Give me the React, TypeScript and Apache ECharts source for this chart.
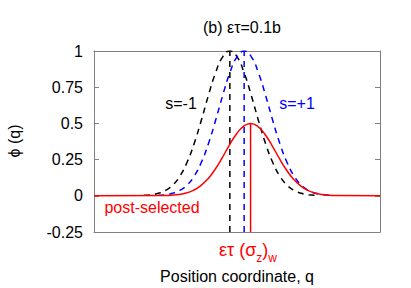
import React, { useEffect, useRef } from "react";
import * as echarts from "echarts";

const titleText = "(b) ετ=0.1b";
const yTicks = [-0.25, 0, 0.25, 0.5, 0.75, 1];

const blackQ = [-6.5, -6, -5.5, -5, -4.5, -4, -3.5, -3, -2.5, -2, -1.5, -1, -0.5, 0, 0.5, 1, 1.5, 2, 2.5, 3, 3.5, 4, 4.5, 5, 5.5];
const blackPhi = [0.003, 0.007, 0.017, 0.037, 0.073, 0.135, 0.23, 0.36, 0.52, 0.693, 0.849, 0.96, 1, 0.96, 0.849, 0.693, 0.52, 0.36, 0.23, 0.135, 0.073, 0.037, 0.017, 0.007, 0.003];

const blueQ = [-5.5, -5, -4.5, -4, -3.5, -3, -2.5, -2, -1.5, -1, -0.5, 0, 0.5, 1, 1.5, 2, 2.5, 3, 3.5, 4, 4.5, 5, 5.5, 6, 6.5];
const bluePhi = [0.003, 0.007, 0.017, 0.037, 0.073, 0.135, 0.23, 0.36, 0.52, 0.693, 0.849, 0.96, 1, 0.96, 0.849, 0.693, 0.52, 0.36, 0.23, 0.135, 0.073, 0.037, 0.017, 0.007, 0.003];

const redQ = [-10, -5.05, -4.55, -4.05, -3.55, -3.05, -2.55, -2.05, -1.55, -1.05, -0.55, -0.05, 0.45, 0.95, 1.45, 1.95, 2.45, 2.95, 3.45, 3.95, 4.45, 4.95, 5.45, 5.95, 6.45, 6.95, 10];
const redPhi = [0, 0.002, 0.004, 0.009, 0.019, 0.037, 0.068, 0.115, 0.18, 0.26, 0.347, 0.425, 0.48, 0.5, 0.48, 0.425, 0.347, 0.26, 0.18, 0.115, 0.068, 0.037, 0.019, 0.009, 0.004, 0.002, 0];

const blackMarkQ = -0.5;
const blueMarkQ = 0.5;
const redMarkQ = 0.95;
const blackMarkTop = 1;
const blueMarkTop = 1;
const redMarkTop = 0.5;

const zip = (xs: number[], ys: number[]) => xs.map((x, i) => [x, ys[i]]);

const FONT = "Liberation Sans, Arial, Helvetica, sans-serif";
const FRAME = "#808080";
const DASH = [6, 5];

export default function App() {
  const ref = useRef<HTMLDivElement>(null);
  useEffect(() => {
    if (!ref.current) return;
    const chart = echarts.init(ref.current, undefined, { renderer: "svg" });
    const yMin = yTicks[0];
    const yMax = yTicks[yTicks.length - 1];
    chart.setOption({
      animation: false,
      backgroundColor: "#ffffff",
      textStyle: { fontFamily: FONT },
      title: {
        text: titleText,
        left: 237,
        top: 14,
        textAlign: "center",
        textStyle: { fontSize: 16, fontWeight: "normal", color: "#000", fontFamily: FONT },
      },
      grid: { left: 94, right: 31, top: 51, bottom: 56 },
      xAxis: [
        {
          type: "value",
          min: -10,
          max: 10,
          axisLine: { show: true, onZero: false, lineStyle: { color: FRAME, width: 1 } },
          axisTick: { show: false },
          axisLabel: { show: false },
          splitLine: { show: false },
        },
        {
          type: "value",
          position: "top",
          min: -10,
          max: 10,
          axisLine: { show: true, onZero: false, lineStyle: { color: FRAME, width: 1 } },
          axisTick: { show: false },
          axisLabel: { show: false },
          splitLine: { show: false },
        },
      ],
      yAxis: [
        {
          type: "value",
          min: yMin,
          max: yMax,
          interval: 0.25,
          axisLine: { show: true, onZero: false, lineStyle: { color: FRAME, width: 1 } },
          axisTick: { show: true, inside: true, length: 5, lineStyle: { color: FRAME } },
          axisLabel: { show: true, color: "#000", fontSize: 16, margin: 11, fontFamily: FONT },
          splitLine: { show: false },
        },
        {
          type: "value",
          position: "right",
          min: yMin,
          max: yMax,
          interval: 0.25,
          axisLine: { show: true, onZero: false, lineStyle: { color: FRAME, width: 1 } },
          axisTick: { show: true, inside: true, length: 5, lineStyle: { color: FRAME } },
          axisLabel: { show: false },
          splitLine: { show: false },
        },
      ],
      series: [
        {
          type: "line",
          name: "s=-1",
          data: zip(blackQ, blackPhi),
          smooth: true,
          showSymbol: false,
          lineStyle: { color: "#000", width: 1.5, type: DASH },
        },
        {
          type: "line",
          name: "s=+1",
          data: zip(blueQ, bluePhi),
          smooth: true,
          showSymbol: false,
          lineStyle: { color: "#0000ff", width: 1.5, type: DASH },
        },
        {
          type: "line",
          name: "black mark",
          data: [[blackMarkQ, yMin], [blackMarkQ, blackMarkTop]],
          showSymbol: false,
          lineStyle: { color: "#000", width: 1.5, type: DASH },
        },
        {
          type: "line",
          name: "blue mark",
          data: [[blueMarkQ, yMin], [blueMarkQ, blueMarkTop]],
          showSymbol: false,
          lineStyle: { color: "#0000ff", width: 1.5, type: DASH },
        },
        {
          type: "line",
          name: "post-selected",
          data: zip(redQ, redPhi),
          smooth: true,
          showSymbol: false,
          lineStyle: { color: "#ff0000", width: 1.5 },
        },
        {
          type: "line",
          name: "red mark",
          data: [[redMarkQ, yMin], [redMarkQ, redMarkTop]],
          showSymbol: false,
          lineStyle: { color: "#ff0000", width: 1.5 },
        },
      ],
      graphic: [
        {
          type: "text",
          x: 14,
          y: 141,
          rotation: Math.PI / 2,
          style: { text: "ϕ (q)", fontSize: 16, fill: "#000", align: "center", verticalAlign: "middle", fontFamily: FONT },
        },
        {
          type: "text",
          x: 237,
          y: 276,
          style: { text: "Position coordinate, q", fontSize: 16, fill: "#000", align: "center", verticalAlign: "middle", fontFamily: FONT },
        },
        {
          type: "text",
          x: 181,
          y: 103,
          style: { text: "s=-1", fontSize: 16, fill: "#000", align: "center", verticalAlign: "middle", fontFamily: FONT },
        },
        {
          type: "text",
          x: 297,
          y: 103,
          style: { text: "s=+1", fontSize: 16, fill: "#0000ff", align: "center", verticalAlign: "middle", fontFamily: FONT },
        },
        {
          type: "text",
          x: 152,
          y: 207,
          style: { text: "post-selected", fontSize: 16, fill: "#ff0000", align: "center", verticalAlign: "middle", fontFamily: FONT },
        },
        {
          type: "text",
          x: 248,
          y: 250,
          style: {
            text: "ετ (σ{s|z}){s|w}",
            fontSize: 18,
            fill: "#ff0000",
            align: "center",
            verticalAlign: "middle",
            fontFamily: FONT,
            rich: {
              s: { fontSize: 12, fill: "#ff0000", verticalAlign: "bottom", lineHeight: 28, fontFamily: FONT },
            },
          },
        },
      ],
    });
    return () => chart.dispose();
  }, []);
  return <div ref={ref} style={{ position: "fixed", left: 0, top: 0, width: 411, height: 288 }} />;
}
